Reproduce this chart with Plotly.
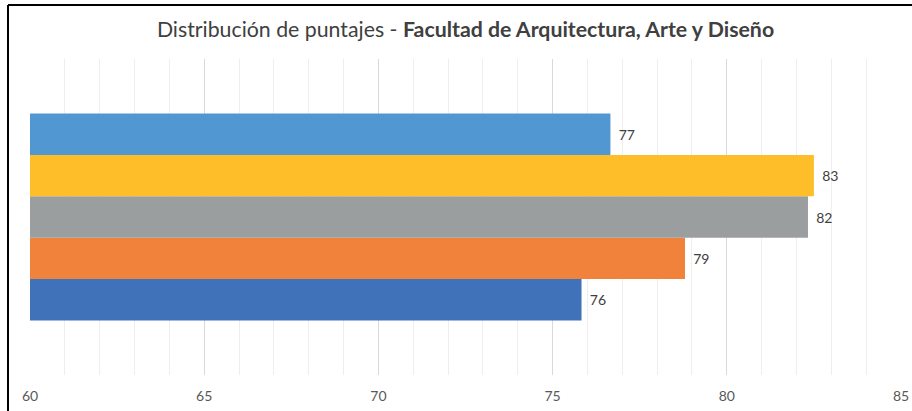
import plotly.graph_objects as go

# Data (bottom to top, Excel series order)
series_names = ["Serie 1", "Serie 2", "Serie 3", "Serie 4", "Serie 5"]
values = [75.83, 78.8, 82.33, 82.5, 76.66]
labels = ["76", "79", "82", "83", "77"]
colors = ["#4072BA", "#F0823C", "#9B9E9F", "#FDBE2A", "#5198D3"]
category = ["Facultad"]
x_ticks = [60, 65, 70, 75, 80, 85]

W, H = 912, 411
ML, MR, MT, MB = 30, 11, 59, 36

fig = go.Figure()
for name, v, lab, c in zip(series_names, values, labels, colors):
    fig.add_trace(go.Bar(
        y=category, x=[v], orientation="h", name=name,
        marker=dict(color=c, line=dict(width=0)),
        text=["\u2009\u2009\u2009" + lab], textposition="outside", cliponaxis=False,
        textfont=dict(family="Lato", size=14, color="#404040"),
    ))

pw = W - ML - MR
ph = H - MT - MB
def px_x(p):
    return (p - ML) / pw
def px_y(p):
    return (H - MB - p) / ph

fig.update_layout(
    width=W, height=H, autosize=False,
    margin=dict(l=ML, r=MR, t=MT, b=MB, autoexpand=False),
    paper_bgcolor="white", plot_bgcolor="white",
    barmode="group", bargap=0.345, bargroupgap=0,
    showlegend=False,
    title=dict(
        text="Distribución de puntajes - <b>Facultad de Arquitectura, Arte y Diseño</b>",
        x=0.5, xref="paper", xanchor="center",
        y=1 - 30 / H, yref="container", yanchor="middle",
        font=dict(family="Lato", size=21.3, color="#404040"),
    ),
    xaxis=dict(
        range=[60, 85], tickvals=x_ticks, ticktext=[str(t) for t in x_ticks],
        showgrid=True, gridcolor="#D9D9D9", gridwidth=1,
        minor=dict(dtick=1, showgrid=True, gridcolor="#EEEEEE", gridwidth=1),
        zeroline=False, showline=False, ticks="",
        ticklabelstandoff=11, automargin=False,
        tickfont=dict(family="Lato", size=14, color="#595959"),
        fixedrange=True,
    ),
    yaxis=dict(showticklabels=False, showgrid=False, zeroline=False, showline=False,
               ticks="", automargin=False, fixedrange=True),
    shapes=[
        dict(type="line", xref="paper", yref="paper",
             x0=px_x(8), x1=px_x(912), y0=px_y(5), y1=px_y(5),
             line=dict(color="#000000", width=2)),
        dict(type="line", xref="paper", yref="paper",
             x0=px_x(8), x1=px_x(8), y0=px_y(5), y1=px_y(411),
             line=dict(color="#000000", width=2)),
    ],
)

fig.write_html("out.html", config={"displayModeBar": False},
               post_script="document.body.style.margin='0px';")
